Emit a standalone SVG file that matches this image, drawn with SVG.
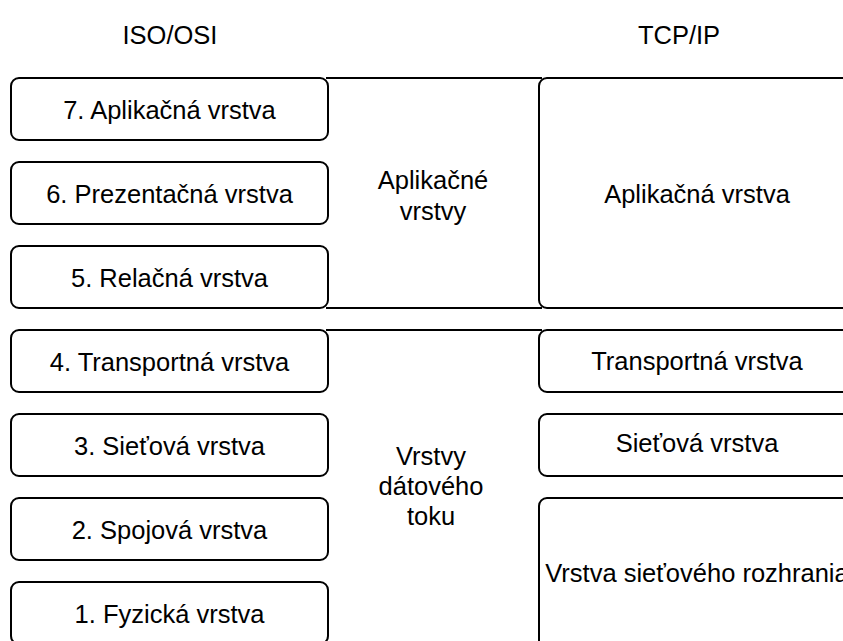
<svg xmlns="http://www.w3.org/2000/svg" width="843" height="641" viewBox="0 0 843 641">
  <style>
    .box { fill: #ffffff; stroke: #000000; stroke-width: 2; }
    .edge { fill: none; stroke: #000000; stroke-width: 2; }
    text { font-family: "Liberation Sans", Arial, sans-serif; font-size: 25.5px; fill: #000000; text-anchor: middle; }
  </style>
  <rect width="843" height="641" fill="#ffffff"/>

  <!-- column headings -->
  <text x="170" y="44">ISO/OSI</text>
  <text x="679" y="44">TCP/IP</text>

  <!-- connectors between the two models -->
  <g id="connectors">
    <line class="edge" x1="326" y1="78" x2="542" y2="78"/>
    <line class="edge" x1="326" y1="308" x2="542" y2="308"/>
    <line class="edge" x1="326" y1="330" x2="542" y2="330"/>
  </g>

  <!-- ISO/OSI layers -->
  <g id="osi7"><rect class="box" x="11" y="78" width="317" height="62" rx="8"/><text x="169.5" y="118.5">7. Aplikačná vrstva</text></g>
  <g id="osi6"><rect class="box" x="11" y="162" width="317" height="62" rx="8"/><text x="169.5" y="202.5">6. Prezentačná vrstva</text></g>
  <g id="osi5"><rect class="box" x="11" y="246" width="317" height="62" rx="8"/><text x="169.5" y="286.5">5. Relačná vrstva</text></g>
  <g id="osi4"><rect class="box" x="11" y="330" width="317" height="62" rx="8"/><text x="169.5" y="370.5">4. Transportná vrstva</text></g>
  <g id="osi3"><rect class="box" x="11" y="414" width="317" height="62" rx="8"/><text x="169.5" y="454.5">3. Sieťová vrstva</text></g>
  <g id="osi2"><rect class="box" x="11" y="498" width="317" height="62" rx="8"/><text x="169.5" y="538.5">2. Spojová vrstva</text></g>
  <g id="osi1"><rect class="box" x="11" y="582" width="317" height="62" rx="8"/><text x="169.5" y="622.5">1. Fyzická vrstva</text></g>

  <!-- grouping labels -->
  <g id="group-app"><text x="433" y="189">Aplikačné</text><text x="433" y="220">vrstvy</text></g>
  <g id="group-data"><text x="431" y="465">Vrstvy</text><text x="431" y="495">dátového</text><text x="431" y="525">toku</text></g>

  <!-- TCP/IP layers -->
  <g id="tcp-app"><rect class="box" x="539" y="78" width="318" height="230" rx="8"/><text x="697" y="203">Aplikačná vrstva</text></g>
  <g id="tcp-transport"><rect class="box" x="539" y="330" width="318" height="62" rx="8"/><text x="697" y="369.5">Transportná vrstva</text></g>
  <g id="tcp-net"><rect class="box" x="539" y="414" width="318" height="62" rx="8"/><text x="697" y="452">Sieťová vrstva</text></g>
  <g id="tcp-link"><rect class="box" x="539" y="498" width="318" height="152" rx="8"/><text x="697" y="582">Vrstva sieťového rozhrania</text></g>
</svg>
